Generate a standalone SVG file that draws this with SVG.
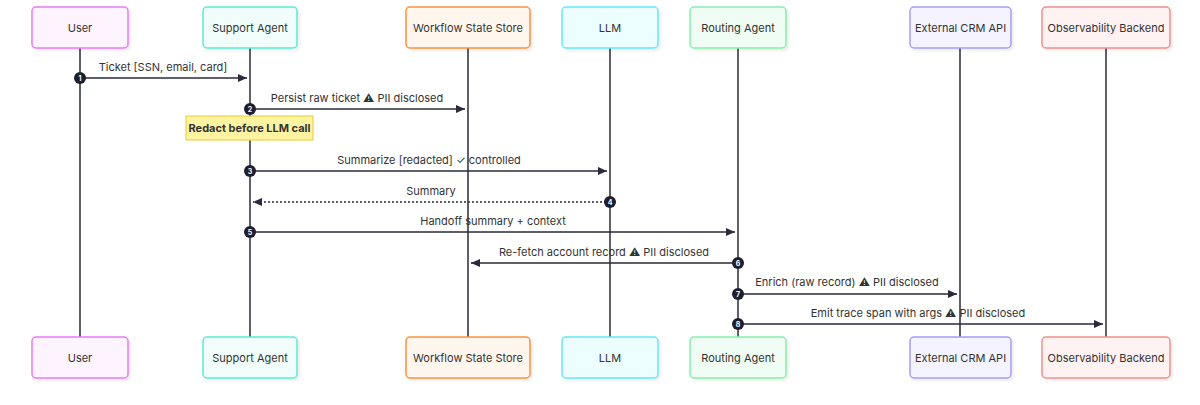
<svg xmlns="http://www.w3.org/2000/svg" width="1200" height="405" viewBox="0 0 1200 405">
<defs>
<marker id="ah" markerWidth="10" markerHeight="10" refX="9" refY="5" orient="auto" markerUnits="userSpaceOnUse"><path d="M0,1 L9,5 L0,9 z" fill="#2a2a3a"/></marker>
<filter id="sh" x="-10%" y="-10%" width="130%" height="140%"><feDropShadow dx="2" dy="2" stdDeviation="1.5" flood-color="#000" flood-opacity="0.08"/></filter>
</defs>
<style>
text{font-family:Inter,"Noto Sans",sans-serif;font-size:11px;fill:#333;}
.a{font-size:11px;text-anchor:middle;}
.b rect{stroke-width:1.5;filter:url(#sh);}
.n{text-anchor:middle;dominant-baseline:central;font-size:11px;}
.life{stroke:#2a2a3a;stroke-width:1.5;}
.m{stroke:#2a2a3a;stroke-width:1.5;fill:none;marker-end:url(#ah);}
.d{stroke-dasharray:2,2;}
.c{fill:#1e1e2e;}
.ct{fill:#fff;font-size:7px;font-weight:bold;text-anchor:middle;dominant-baseline:central;}
</style>
<g id="lifelines">
<line class="life" x1="80" y1="48" x2="80" y2="337"/>
<line class="life" x1="250" y1="48" x2="250" y2="337"/>
<line class="life" x1="468" y1="48" x2="468" y2="337"/>
<line class="life" x1="610" y1="48" x2="610" y2="337"/>
<line class="life" x1="738" y1="48" x2="738" y2="337"/>
<line class="life" x1="960" y1="48" x2="960" y2="337"/>
<line class="life" x1="1106" y1="48" x2="1106" y2="337"/>
</g>
<g id="user" class="b"><rect x="32" y="7" width="96" height="41" rx="4" fill="#fdf4ff" stroke="#e879f9"/><text class="n" x="80" y="27.5">User</text><rect x="32" y="337" width="96" height="41" rx="4" fill="#fdf4ff" stroke="#e879f9"/><text class="n" x="80" y="357.5">User</text></g>
<g id="support" class="b"><rect x="203" y="7" width="94" height="41" rx="4" fill="#f0fdfa" stroke="#5eead4"/><text class="n" x="250" y="27.5">Support Agent</text><rect x="203" y="337" width="94" height="41" rx="4" fill="#f0fdfa" stroke="#5eead4"/><text class="n" x="250" y="357.5">Support Agent</text></g>
<g id="store" class="b"><rect x="406" y="7" width="124" height="41" rx="4" fill="#fff7ed" stroke="#fb923c"/><text class="n" x="468" y="27.5">Workflow State Store</text><rect x="406" y="337" width="124" height="41" rx="4" fill="#fff7ed" stroke="#fb923c"/><text class="n" x="468" y="357.5">Workflow State Store</text></g>
<g id="llm" class="b"><rect x="562" y="7" width="96" height="41" rx="4" fill="#ecfeff" stroke="#67e8f9"/><text class="n" x="610" y="27.5">LLM</text><rect x="562" y="337" width="96" height="41" rx="4" fill="#ecfeff" stroke="#67e8f9"/><text class="n" x="610" y="357.5">LLM</text></g>
<g id="routing" class="b"><rect x="690" y="7" width="96" height="41" rx="4" fill="#f0fdf4" stroke="#86efac"/><text class="n" x="738" y="27.5">Routing Agent</text><rect x="690" y="337" width="96" height="41" rx="4" fill="#f0fdf4" stroke="#86efac"/><text class="n" x="738" y="357.5">Routing Agent</text></g>
<g id="crm" class="b"><rect x="910" y="7" width="101" height="41" rx="4" fill="#f5f3ff" stroke="#a5a0f5"/><text class="n" x="960.5" y="27.5">External CRM API</text><rect x="910" y="337" width="101" height="41" rx="4" fill="#f5f3ff" stroke="#a5a0f5"/><text class="n" x="960.5" y="357.5">External CRM API</text></g>
<g id="obs" class="b"><rect x="1042" y="7" width="128" height="41" rx="4" fill="#fef2f2" stroke="#f0908a"/><text class="n" x="1106" y="27.5">Observability Backend</text><rect x="1042" y="337" width="128" height="41" rx="4" fill="#fef2f2" stroke="#f0908a"/><text class="n" x="1106" y="357.5">Observability Backend</text></g>
<g id="note"><rect x="186" y="116" width="127" height="24" fill="#fef3a0" stroke="#eacb30" stroke-width="1"/><text x="249.5" y="132" text-anchor="middle" font-weight="bold" font-size="10.5">Redact before LLM call</text></g>
<g id="connectors">
<line class="m" x1="80" y1="78" x2="247" y2="78"/>
<line class="m" x1="250" y1="109" x2="465" y2="109"/>
<line class="m" x1="250" y1="171" x2="607" y2="171"/>
<line class="m d" x1="610" y1="202" x2="253" y2="202"/>
<line class="m" x1="250" y1="232" x2="735" y2="232"/>
<line class="m" x1="738" y1="263" x2="471" y2="263"/>
<line class="m" x1="738" y1="294" x2="957" y2="294"/>
<line class="m" x1="738" y1="324" x2="1103" y2="324"/>
<text class="a" x="163" y="71">Ticket [SSN, email, card]</text>
<text class="a" x="357" y="102">Persist raw ticket ⚠ PII disclosed</text>
<text class="a" x="429" y="164">Summarize [redacted] ✓ controlled</text>
<text class="a" x="431" y="195">Summary</text>
<text class="a" x="493" y="225">Handoff summary + context</text>
<text class="a" x="604" y="256">Re-fetch account record ⚠ PII disclosed</text>
<text class="a" x="847" y="286">Enrich (raw record) ⚠ PII disclosed</text>
<text class="a" x="918" y="317">Emit trace span with args ⚠ PII disclosed</text>
<circle class="c" cx="80" cy="78" r="6"/><text class="ct" x="80" y="78">1</text>
<circle class="c" cx="250" cy="109" r="6"/><text class="ct" x="250" y="109">2</text>
<circle class="c" cx="250" cy="171" r="6"/><text class="ct" x="250" y="171">3</text>
<circle class="c" cx="610" cy="202" r="6"/><text class="ct" x="610" y="202">4</text>
<circle class="c" cx="250" cy="232" r="6"/><text class="ct" x="250" y="232">5</text>
<circle class="c" cx="738" cy="263" r="6"/><text class="ct" x="738" y="263">6</text>
<circle class="c" cx="738" cy="294" r="6"/><text class="ct" x="738" y="294">7</text>
<circle class="c" cx="738" cy="324" r="6"/><text class="ct" x="738" y="324">8</text>
</g>
</svg>
